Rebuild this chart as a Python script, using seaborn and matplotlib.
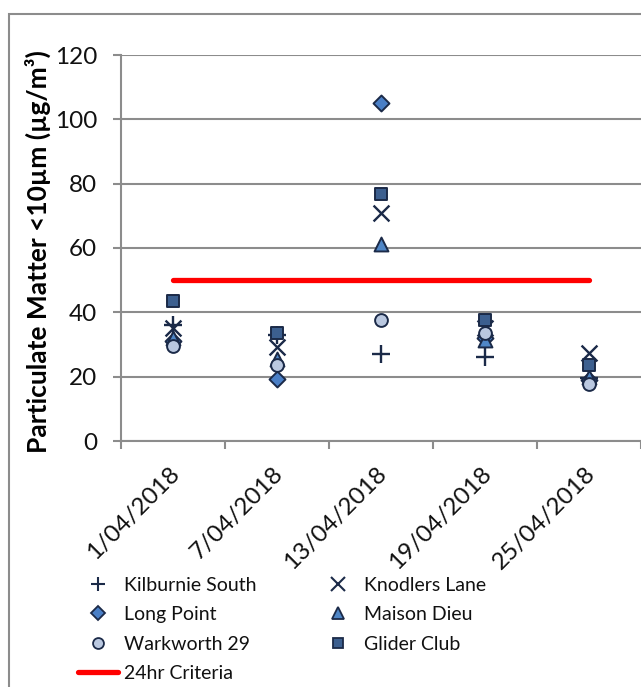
import matplotlib
matplotlib.use("Agg")
import matplotlib.pyplot as plt
import matplotlib.patches as mpatches
from matplotlib.lines import Line2D
import matplotlib.transforms as mtransforms
import seaborn as sns
import pandas as pd

dates = ["1/04/2018", "7/04/2018", "13/04/2018", "19/04/2018", "25/04/2018"]
kilburnie_south = [36, 33, 27, 26, 19.5]
knodlers_lane = [35, 29.3, 71, 35, 27.4]
long_point = [31, 19.4, 105, 32, 19]
maison_dieu = [32, 25.6, 61.2, 31.5, 19.9]
warkworth_29 = [29.6, 23.5, 37.6, 33.6, 17.6]
glider_club = [43.5, 33.6, 76.8, 37.6, 23.5]
criteria = [50, 50, 50, 50, 50]

series = [
    ("Kilburnie South", kilburnie_south),
    ("Knodlers Lane", knodlers_lane),
    ("Long Point", long_point),
    ("Maison Dieu", maison_dieu),
    ("Warkworth 29", warkworth_29),
    ("Glider Club", glider_club),
]

edge = "#1b2a48"
styles = {
    "Kilburnie South": dict(marker="+", color=edge, s=160, linewidth=1.7),
    "Knodlers Lane": dict(marker="x", color=edge, s=130, linewidth=1.7),
    "Long Point": dict(marker="D", color="#4a7fc6", edgecolor=edge, s=66, linewidth=1.4),
    "Maison Dieu": dict(marker="^", color="#4f86c6", edgecolor=edge, s=100, linewidth=1.4),
    "Warkworth 29": dict(marker="o", color="#bac8e0", edgecolor=edge, s=85, linewidth=1.4),
    "Glider Club": dict(marker="s", color="#3c5f8f", edgecolor=edge, s=82, linewidth=1.4),
}

sns.set_theme(style="white")
plt.rcParams["font.family"] = ["Lato", "DejaVu Sans"]

W, H = 641, 687
fig = plt.figure(figsize=(W / 100, H / 100), dpi=100)
ax = fig.add_axes([120.7 / W, 1 - 441 / H, (640.5 - 120.7) / W, (441 - 55) / H])

xpos = list(range(len(dates)))
handles = {}
for name, vals in series:
    df = pd.DataFrame({"x": xpos, "y": vals})
    st = styles[name]
    kw = dict(marker=st["marker"], s=st["s"], linewidth=st["linewidth"], zorder=3,
              color=st["color"])
    if "edgecolor" in st:
        kw["edgecolor"] = st["edgecolor"]
    sns.scatterplot(data=df, x="x", y="y", ax=ax, legend=False, **kw)
    ms = (st["s"]) ** 0.5
    if "edgecolor" in st:
        handles[name] = Line2D([], [], linestyle="none", marker=st["marker"],
                               markersize=ms * 0.85, markerfacecolor=st["color"],
                               markeredgecolor=st["edgecolor"], markeredgewidth=1.3)
    else:
        handles[name] = Line2D([], [], linestyle="none", marker=st["marker"],
                               markersize=ms * 0.85, color=st["color"], markeredgewidth=1.5)

cdf = pd.DataFrame({"x": xpos, "y": criteria})
sns.lineplot(data=cdf, x="x", y="y", ax=ax, color="#ff0000", linewidth=3.8,
             solid_capstyle="round", zorder=2, legend=False)
handles["24hr Criteria"] = Line2D([], [], color="#ff0000", linewidth=3.8, solid_capstyle="round")

grid_c = "#8c8c8c"
ax.set_xlim(-0.5, len(dates) - 0.5)
ax.set_ylim(0, 120)
ax.set_yticks(range(0, 121, 20))
ax.yaxis.grid(True, color=grid_c, linewidth=1.5)
ax.xaxis.grid(False)
ax.set_axisbelow(True)
for s in ["top", "right"]:
    ax.spines[s].set_visible(False)
for s in ["left", "bottom"]:
    ax.spines[s].set_color(grid_c)
    ax.spines[s].set_linewidth(1.5)

ax.set_xticks([i - 0.5 for i in range(len(dates) + 1)])
ax.set_xticklabels([])
ax.set_xticks(xpos, minor=True)
ax.set_xticklabels(dates, minor=True, rotation=45, ha="right", va="center",
                   rotation_mode="anchor", fontsize=17.5, color="#111111")
ax.tick_params(axis="x", which="major", direction="out", length=6, width=1.5,
               color=grid_c, bottom=True)
ax.tick_params(axis="x", which="minor", length=0, pad=21, bottom=True)
ax.tick_params(axis="y", direction="out", length=6, width=1.5, color=grid_c,
               left=True, labelsize=17.5, labelcolor="#111111", pad=11)
offset = mtransforms.ScaledTranslation(3 / 100, 0, fig.dpi_scale_trans)
for lab in ax.get_xticklabels(minor=True):
    lab.set_transform(lab.get_transform() + offset)

ax.set_xlabel("")
ax.set_ylabel("Particulate Matter <10µm (µg/m³)", fontsize=19, fontweight="bold",
              color="#000000", va="center")
ax.yaxis.set_label_coords((38 - 120.7) / (640.5 - 120.7), 0.49)

order = ["Kilburnie South", "Long Point", "Warkworth 29", "24hr Criteria",
         "Knodlers Lane", "Maison Dieu", "Glider Club"]
leg = fig.legend([handles[n] for n in order], order, ncol=2, frameon=False,
                 loc="upper left", bbox_to_anchor=(78 / W, 1 - 577 / H),
                 fontsize=14, handlelength=2.07, handletextpad=0.3,
                 columnspacing=3.15, labelspacing=0.63, borderpad=0, borderaxespad=0)
for t in leg.get_texts():
    t.set_color("#111111")

border = mpatches.Rectangle((8.5 / W, -0.1), 1.2, 1 - 13.5 / H + 0.1,
                            transform=fig.transFigure, fill=False,
                            edgecolor="#8c8c8c", linewidth=1.5, clip_on=False)
fig.patches.append(border)

fig.savefig("out.png", dpi=100)
